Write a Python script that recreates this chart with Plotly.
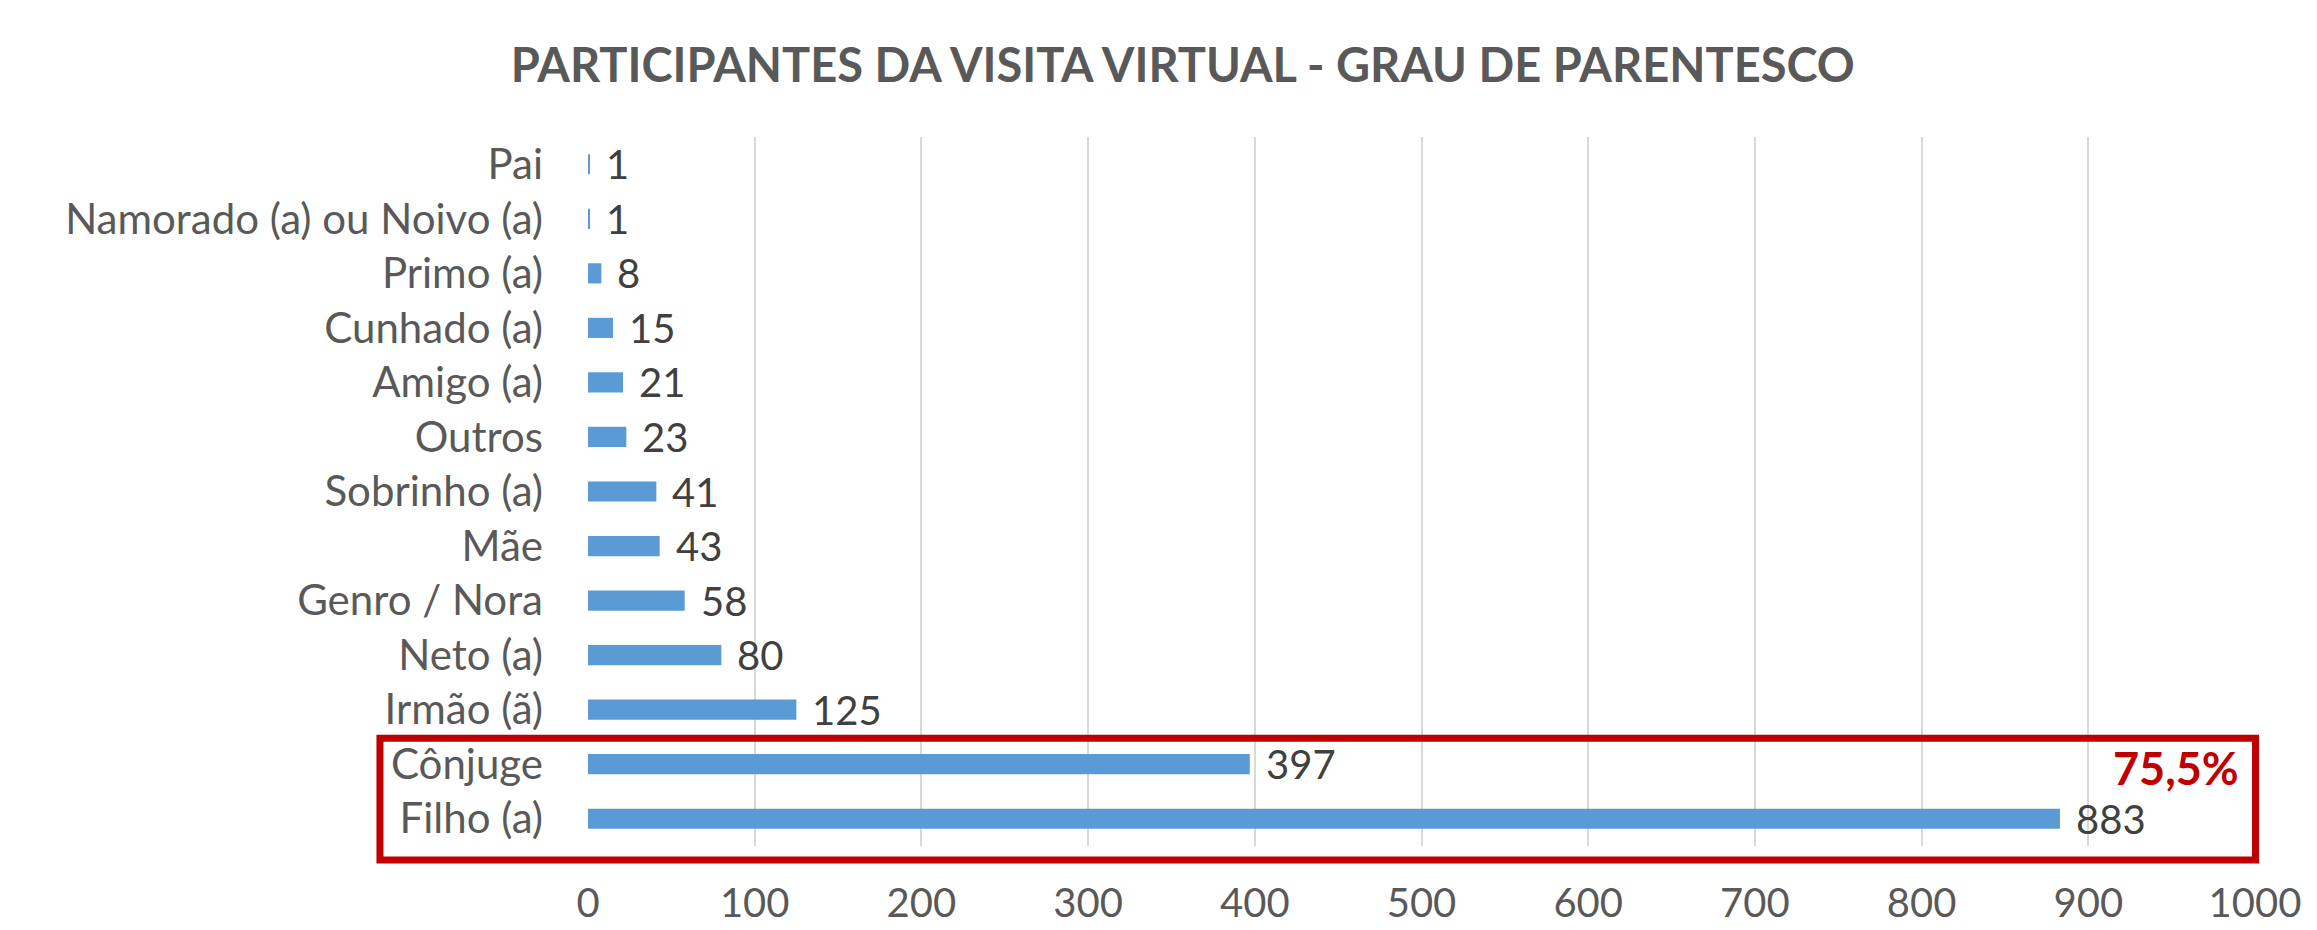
import plotly.graph_objects as go

categories = ["Pai", "Namorado (a) ou Noivo (a)", "Primo (a)", "Cunhado (a)", "Amigo (a)",
              "Outros", "Sobrinho (a)", "Mãe", "Genro / Nora", "Neto (a)", "Irmão (ã)",
              "Cônjuge", "Filho (a)"]
values = [1, 1, 8, 15, 21, 23, 41, 43, 58, 80, 125, 397, 883]
x_ticks = [0, 100, 200, 300, 400, 500, 600, 700, 800, 900, 1000]
title_text = "PARTICIPANTES DA VISITA VIRTUAL - GRAU DE PARENTESCO"
highlight_text = "75,5%"

W, H = 2317, 930
L, R, T, B = 580, 70, 129, 73
FONT = "Lato"

fig = go.Figure()
fig.add_trace(go.Bar(
    y=categories, x=values, orientation="h",
    marker=dict(color="#5B9BD5", line=dict(width=0)),
    hoverinfo="x+y",
))

for c, v in zip(categories, values):
    fig.add_annotation(x=v, y=c, xref="x", yref="y", text=str(v), showarrow=False,
                       xanchor="left", yanchor="middle", xshift=14,
                       font=dict(family=FONT, size=40, color="#404040"))

fig.add_annotation(xref="paper", yref="paper", x=0.9916, y=0.110, text=highlight_text,
                   showarrow=False, xanchor="right", yanchor="middle",
                   font=dict(family=FONT, size=45, color="#C00000", weight="bold"))

fig.add_shape(type="rect", xref="paper", yref="paper",
              x0=-0.1248, x1=1.0003, y0=-0.0199, y1=0.1518,
              line=dict(color="#C00000", width=7), fillcolor="rgba(0,0,0,0)")

fig.update_layout(
    width=W, height=H,
    margin=dict(l=L, r=R, t=T, b=B, pad=0),
    paper_bgcolor="white", plot_bgcolor="white",
    bargap=0.63,
    showlegend=False,
    title=dict(text=title_text, x=0.507, xanchor="center", y=1 - 58 / H, yanchor="middle",
               xref="container", yref="container",
               font=dict(family=FONT, size=47, color="#595959", weight="bold")),
    xaxis=dict(range=[0, 1000], tickvals=x_ticks, ticktext=[str(t) for t in x_ticks],
               showgrid=True, gridcolor="#D9D9D9", gridwidth=2,
               zeroline=False, showline=False, ticks="",
               tickfont=dict(family=FONT, size=40, color="#595959"),
               ticklabelstandoff=30),
    yaxis=dict(categoryorder="array", categoryarray=categories, autorange="reversed",
               showgrid=False, zeroline=False, showline=False, ticks="",
               tickfont=dict(family=FONT, size=42, color="#595959"),
               ticklabelstandoff=44),
)

fig.write_html("out.html")
